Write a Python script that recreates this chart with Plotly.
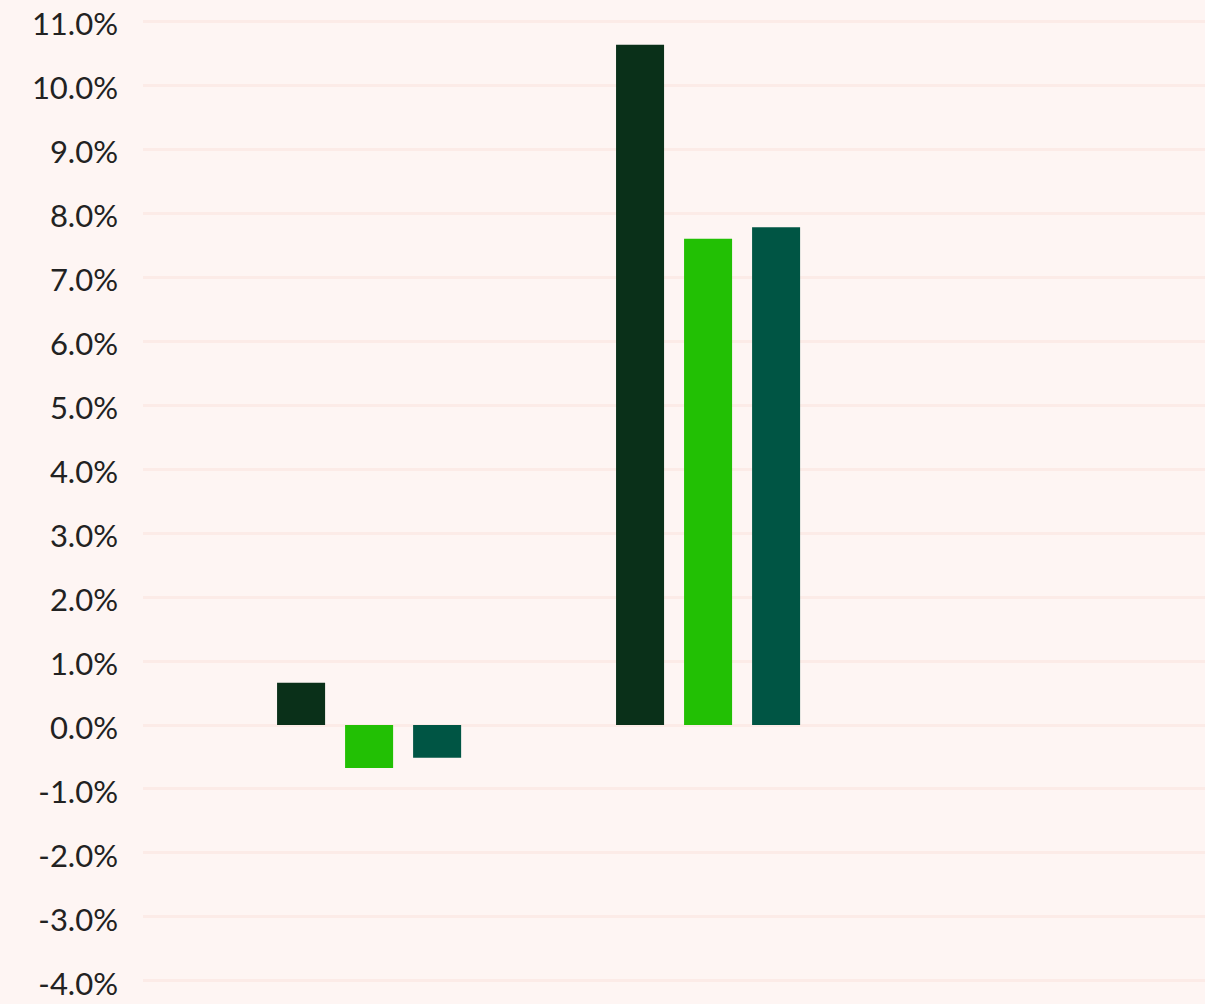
import plotly.graph_objects as go

# Categories and series values (percent)
categories = ["Group A", "Group B", "Group C"]
series_names = ["Series 1", "Series 2", "Series 3"]
series_values = [
    [0.66, 10.63, None],
    [-0.67, 7.60, None],
    [-0.51, 7.78, None],
]
series_colors = ["#0a3019", "#22c004", "#005544"]
tick_values = [-4, -3, -2, -1, 0, 1, 2, 3, 4, 5, 6, 7, 8, 9, 10, 11]
tick_labels = [f"{v:.1f}%" for v in tick_values]

fig = go.Figure()
for name, vals, color in zip(series_names, series_values, series_colors):
    fig.add_trace(go.Bar(x=categories, y=vals, name=name, marker_color=color,
                         marker_line_width=0))

fig.update_layout(
    width=1205,
    height=1004,
    barmode="group",
    bargap=0.398,
    bargroupgap=0.294,
    showlegend=False,
    paper_bgcolor="#fef5f3",
    plot_bgcolor="#fef5f3",
    margin=dict(l=143, r=0, t=0, b=0),
    font=dict(family="Lato, sans-serif", size=31, color="#222222"),
)
fig.update_xaxes(
    type="category",
    range=[-0.667, 2.466],
    showticklabels=False,
    showgrid=False,
    zeroline=False,
    showline=False,
    ticks="",
)
fig.update_yaxes(
    range=[-4.36, 11.33],
    tickvals=tick_values,
    ticktext=tick_labels,
    showgrid=True,
    gridcolor="#fcebe7",
    gridwidth=3,
    zeroline=False,
    showline=False,
    ticks="",
    ticklabelstandoff=24,
    ticklabelshift=3,
)

fig.write_html("out.html")
